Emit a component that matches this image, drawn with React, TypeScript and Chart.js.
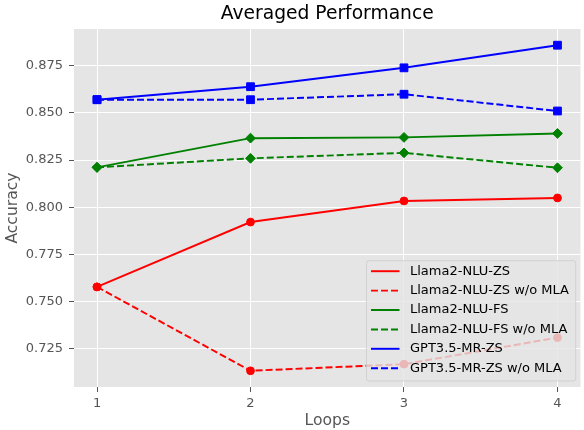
import React, { useEffect, useRef } from 'react';
import { Chart, registerables } from 'chart.js';

Chart.register(...registerables);

const loops = [1, 2, 3, 4];
const llamaZS = [0.7577, 0.7921, 0.8033, 0.8049];
const llamaZSwo = [0.7577, 0.7132, 0.7167, 0.7308];
const llamaFS = [0.8211, 0.8366, 0.837, 0.8391];
const llamaFSwo = [0.8211, 0.8259, 0.8288, 0.8209];
const gptZS = [0.857, 0.8639, 0.8739, 0.8859];
const gptZSwo = [0.857, 0.857, 0.8599, 0.851];
const yTicks = [0.725, 0.75, 0.775, 0.8, 0.825, 0.85, 0.875];
const xTicks = [1, 2, 3, 4];
const seriesLabels = [
  'Llama2-NLU-ZS',
  'Llama2-NLU-ZS w/o MLA',
  'Llama2-NLU-FS',
  'Llama2-NLU-FS w/o MLA',
  'GPT3.5-MR-ZS',
  'GPT3.5-MR-ZS w/o MLA',
];
const titleText = 'Averaged Performance';
const xTitle = 'Loops';
const yTitle = 'Accuracy';

const FONT = "'DejaVu Sans', sans-serif";
const DASH = [7, 3];

export default function App() {
  const ref = useRef<HTMLCanvasElement>(null);
  useEffect(() => {
    if (!ref.current) return;
    const series = [llamaZS, llamaZSwo, llamaFS, llamaFSwo, gptZS, gptZSwo];
    const colors = ['#ff0000', '#ff0000', '#008000', '#008000', '#0000ff', '#0000ff'];
    const styles = ['circle', 'circle', 'rectRot', 'rectRot', 'rect', 'rect'];
    const radii: Record<string, number> = { circle: 3.9, rectRot: 4.9, rect: 5.5 };
    const datasets = series.map((s, i) => ({
      label: seriesLabels[i],
      data: s.map((v, j) => ({ x: loops[j], y: v })),
      borderColor: colors[i],
      backgroundColor: colors[i],
      borderWidth: 1.95,
      borderDash: i % 2 === 1 ? DASH : [],
      pointStyle: styles[i],
      pointRadius: radii[styles[i]],
      pointBorderWidth: 1,
      pointBorderColor: colors[i],
      pointBackgroundColor: colors[i],
      tension: 0,
      order: -i,
      clip: false,
    }));

    const bgPlugin = {
      id: 'bg',
      beforeDraw(chart: any) {
        const { ctx, chartArea: a } = chart;
        ctx.save();
        ctx.fillStyle = '#ffffff';
        ctx.fillRect(0, 0, chart.width, chart.height);
        ctx.fillStyle = '#e5e5e5';
        ctx.fillRect(a.left, a.top, a.right - a.left, a.bottom - a.top);
        ctx.restore();
      },
      afterDraw(chart: any) {
        const { ctx, chartArea: a } = chart;
        ctx.save();
        ctx.fillStyle = '#000000';
        ctx.font = `18.7px ${FONT}`;
        ctx.textAlign = 'center';
        ctx.textBaseline = 'alphabetic';
        ctx.fillText(titleText, (a.left + a.right) / 2, 18.5);
        ctx.restore();
      },
    };

    const legendPlugin = {
      id: 'innerLegend',
      afterDatasetsDraw(chart: any) {
        const { ctx } = chart;
        const x0 = 366.5, y0 = 260.7, x1 = 575.7, y1 = 381;
        const r = 2.5;
        ctx.save();
        ctx.beginPath();
        ctx.moveTo(x0 + r, y0);
        ctx.lineTo(x1 - r, y0);
        ctx.arcTo(x1, y0, x1, y0 + r, r);
        ctx.lineTo(x1, y1 - r);
        ctx.arcTo(x1, y1, x1 - r, y1, r);
        ctx.lineTo(x0 + r, y1);
        ctx.arcTo(x0, y1, x0, y1 - r, r);
        ctx.lineTo(x0, y0 + r);
        ctx.arcTo(x0, y0, x0 + r, y0, r);
        ctx.closePath();
        ctx.fillStyle = 'rgba(229,229,229,0.8)';
        ctx.fill();
        ctx.strokeStyle = 'rgba(204,204,204,0.8)';
        ctx.lineWidth = 1;
        ctx.stroke();
        chart.data.datasets.forEach((ds: any, i: number) => {
          const y = 271.2 + i * 19.4;
          ctx.beginPath();
          ctx.setLineDash(ds.borderDash || []);
          ctx.strokeStyle = ds.borderColor;
          ctx.lineWidth = 1.95;
          ctx.moveTo(371, y);
          ctx.lineTo(399.5, y);
          ctx.stroke();
          ctx.setLineDash([]);
          ctx.fillStyle = '#000000';
          ctx.font = `13px ${FONT}`;
          ctx.textAlign = 'left';
          ctx.textBaseline = 'middle';
          ctx.fillText(ds.label, 410, y);
        });
        ctx.restore();
      },
    };

    const chart = new Chart(ref.current, {
      type: 'line',
      data: { datasets },
      plugins: [bgPlugin, legendPlugin],
      options: {
        animation: false,
        responsive: false,
        devicePixelRatio: 1,
        layout: { autoPadding: false, padding: { top: 29, right: 3.5, left: 0, bottom: 0 } },
        plugins: { legend: { display: false }, title: { display: false }, tooltip: { enabled: false } },
        scales: {
          x: {
            type: 'linear',
            min: 0.85,
            max: 4.15,
            afterBuildTicks: (s: any) => { s.ticks = xTicks.map((v) => ({ value: v })); },
            afterFit: (s: any) => { s.height = 43; s.paddingLeft = 0; s.paddingRight = 0; },
            border: { display: false },
            grid: { color: '#ffffff', lineWidth: 1, tickColor: '#555555', tickLength: 5, tickWidth: 1 },
            ticks: {
              autoSkip: false,
              maxRotation: 0,
              padding: 4,
              color: '#555555',
              font: { family: FONT, size: 13 },
              callback: (v: any) => String(v),
            },
            title: {
              display: true,
              text: xTitle,
              color: '#555555',
              font: { family: FONT, size: 15.6 },
              padding: { top: 0, bottom: 0 },
            },
          },
          y: {
            type: 'linear',
            min: 0.7046,
            max: 0.8945,
            afterBuildTicks: (s: any) => { s.ticks = yTicks.map((v) => ({ value: v })); },
            afterFit: (s: any) => { s.width = 74; s.paddingTop = 0; s.paddingBottom = 0; },
            border: { display: false },
            grid: { color: '#ffffff', lineWidth: 1, tickColor: '#555555', tickLength: 5, tickWidth: 1 },
            ticks: {
              autoSkip: false,
              padding: 6,
              color: '#555555',
              font: { family: FONT, size: 13 },
              callback: (v: any) => Number(v).toFixed(3),
            },
            title: {
              display: true,
              text: yTitle,
              color: '#555555',
              font: { family: FONT, size: 15.6 },
              padding: { top: 4, bottom: 0 },
            },
          },
        },
      } as any,
    });
    return () => chart.destroy();
  }, []);

  return (
    <div style={{ position: 'fixed', left: 0, top: 0, width: 584, height: 430 }}>
      <canvas ref={ref} width={584} height={430} style={{ width: 584, height: 430, display: 'block' }} />
    </div>
  );
}
